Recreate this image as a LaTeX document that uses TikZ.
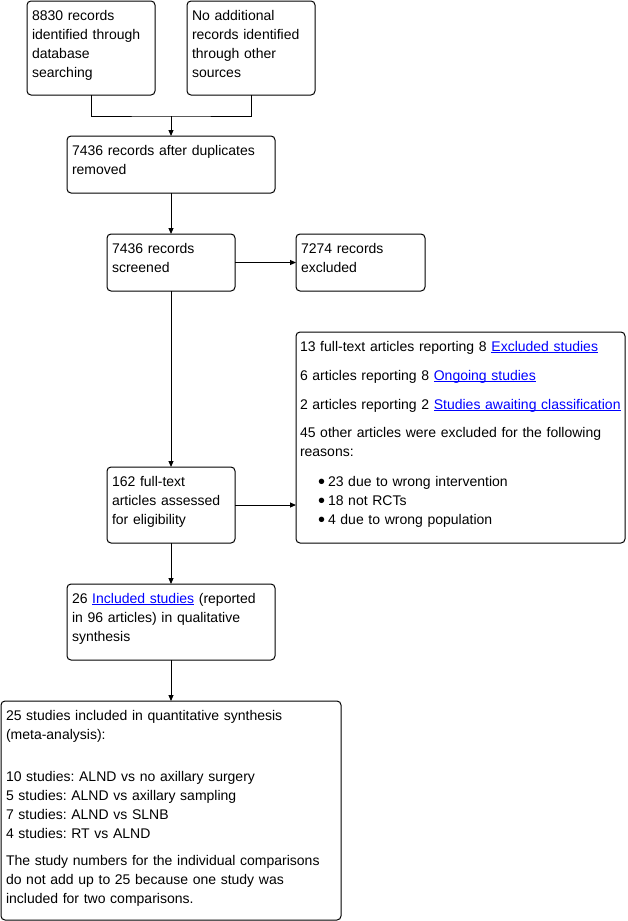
\documentclass[tikz,border=0pt]{standalone}
\usepackage{fontspec}
\setmainfont{Liberation Sans}
\usetikzlibrary{arrows.meta,positioning}
\definecolor{linkblau}{RGB}{0,0,255}
\newcommand{\verweis}[1]{\textcolor{linkblau}{\sbox0{#1}\rlap{\rule[-2pt]{\wd0}{1pt}}\box0}}
\newcommand{\punkt}{\hspace*{18pt}\smash{\raisebox{-2.7pt}{\fontsize{20pt}{19pt}\selectfont\textbullet}}\hspace{3pt}}
\frenchspacing

\begin{document}
\begin{tikzpicture}[x=1pt, y=-1pt,
        every node/.style={font=\fontsize{14pt}{19pt}\selectfont},
        kasten/.style={draw, rounded corners=4pt, line width=1pt, anchor=north west, align=left,
          inner xsep=5pt, inner ysep=0pt, outer sep=0pt, text height=19pt},
        pfeil/.style={line width=1pt, -{Triangle[length=6pt,width=5pt]}},
        linie/.style={line width=1pt}
      ]
        % feste Bounding-Box (Seitenformat wie Vorlage)
        \useasboundingbox (0,0) rectangle (627,921);

        % Identifikation
        \node[kasten, text width=118pt, text depth=75pt] (dbsuche) at (27,1)
          {8830 records\\identified through\\database\\searching};
        \node[kasten, text width=118pt, text depth=75pt] (andere) at (187,1)
          {No additional\\records identified\\through other\\sources};

        % Screening
        \node[kasten, text width=198pt, text depth=38pt] (duplikate) at (67,136)
          {7436 records after duplicates\\removed};
        \node[kasten, text width=118pt, text depth=38pt] (gesichtet) at (107,234)
          {7436 records\\screened};
        \node[kasten, text width=119pt, text depth=38pt] (ausgeschlossen) at (296,234)
          {7274 records\\excluded};

        % Eignung
        \node[kasten, text width=321pt, inner xsep=4pt, text depth=192pt] (volltextaus) at (296,332)
          {13 full-text articles reporting 8 \verweis{Excluded studies}\\[10pt]
           6 articles reporting 8 \verweis{Ongoing studies}\\[10pt]
           2 articles reporting 2 \verweis{Studies awaiting classification}\\[9pt]
           45 other articles were excluded for the following\\
           reasons:\\[11pt]
           \punkt 23 due to wrong intervention\\
           \punkt 18 not RCTs\\
           \punkt 4 due to wrong population};
        \node[kasten, text width=118pt, text depth=57pt] (volltext) at (107,467)
          {162 full-text\\articles assessed\\for eligibility};

        % Eingeschlossen
        \node[kasten, text width=198pt, text depth=57pt] (qualitativ) at (67,584)
          {26 \verweis{Included studies} (reported\\in 96 articles) in qualitative\\synthesis};
        \node[kasten, text width=330pt, text depth=200pt] (quantitativ) at (1,701)
          {25 studies included in quantitative synthesis\\
           (meta-analysis):\\[23pt]
           10 studies: ALND vs no axillary surgery\\
           5 studies: ALND vs axillary sampling\\
           7 studies: ALND vs SLNB\\
           4 studies: RT vs ALND\\[8pt]
           The study numbers for the individual comparisons\\
           do not add up to 25 because one study was\\
           included for two comparisons.};

        % Verbindungen
        \coordinate (zusammen) at (171,116);
        \draw[linie] (dbsuche.south) |- (zusammen) -| (andere.south);
        \draw[pfeil] (zusammen) -- (duplikate.north);
        \draw[pfeil] (duplikate) -- (gesichtet);
        \draw[pfeil] (gesichtet) -- (ausgeschlossen);
        \draw[pfeil] (gesichtet) -- (volltext);
        \draw[pfeil] (volltext.east) -- (volltext.east -| volltextaus.west);
        \draw[pfeil] (volltext) -- (qualitativ);
        \draw[pfeil] (qualitativ) -- (quantitativ);
      \end{tikzpicture}
\end{document}
